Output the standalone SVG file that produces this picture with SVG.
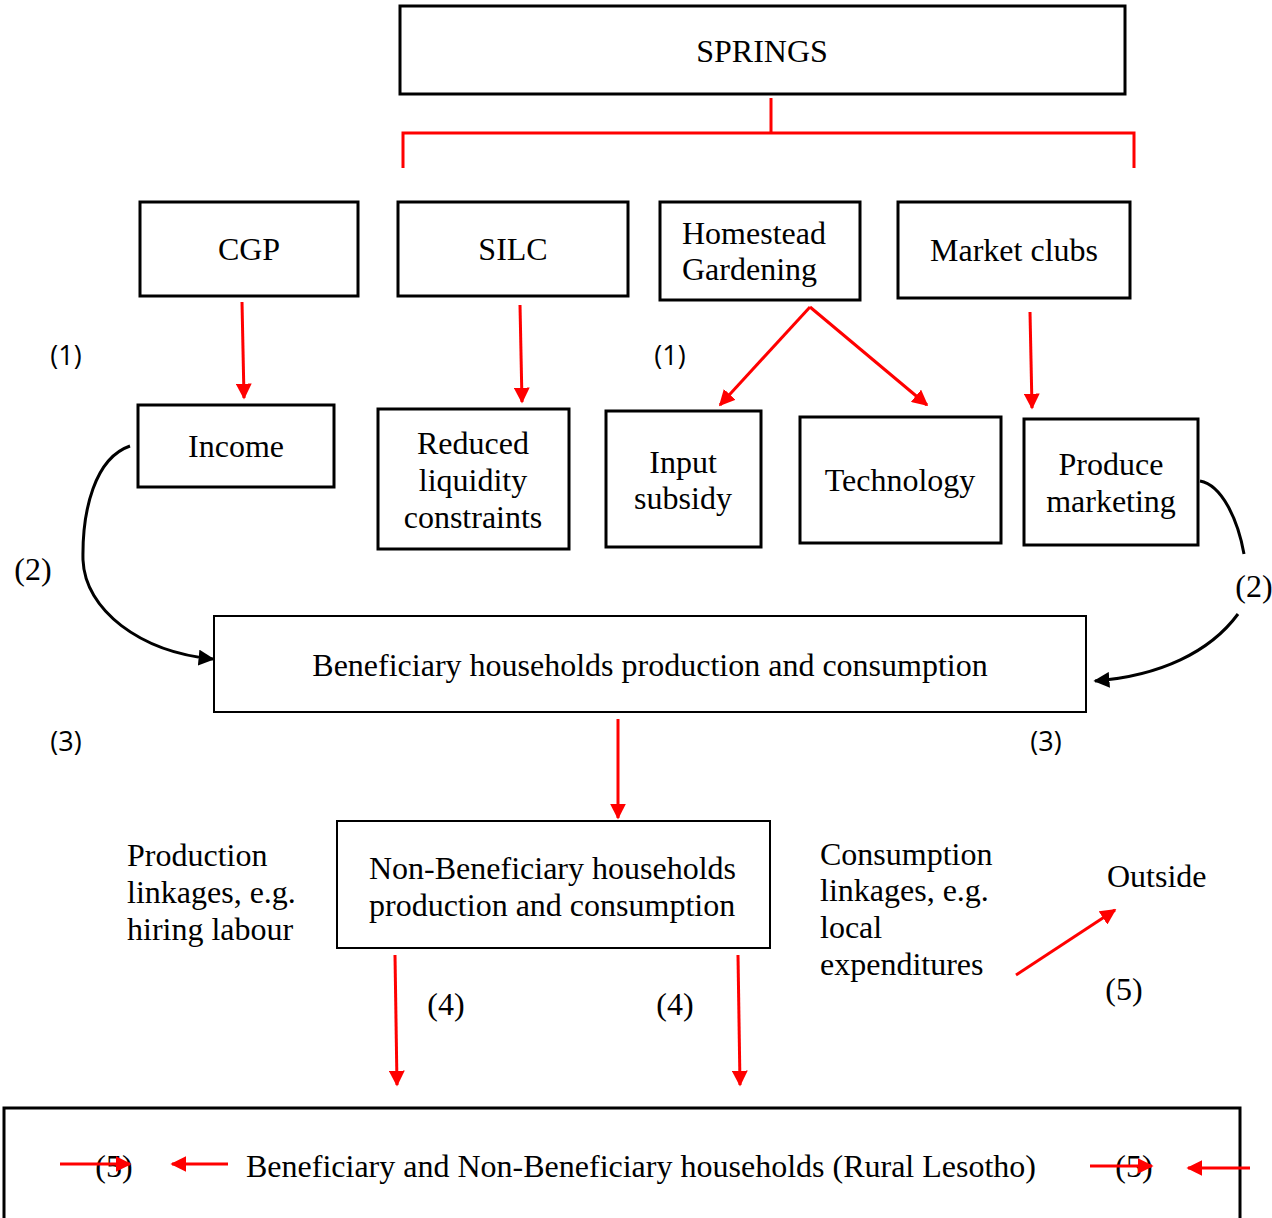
<svg xmlns="http://www.w3.org/2000/svg" width="1272" height="1218" viewBox="0 0 1272 1218">
<style>
.box{fill:#fff;stroke:#000;stroke-width:3}
.thin{fill:#fff;stroke:#000;stroke-width:2}
.t{font-family:"Liberation Serif","Times New Roman",serif;font-size:32px;fill:#000}
.c{text-anchor:middle}
.s{font-family:"Open Sans","Liberation Sans",sans-serif;font-size:27px;fill:#000;text-anchor:middle}
.red{stroke:#f00;stroke-width:3;fill:none}
.blk{stroke:#000;stroke-width:3;fill:none}
</style>
<defs>
<marker id="rab" viewBox="0 0 10 10" refX="9" refY="5" markerWidth="16" markerHeight="16" orient="auto" markerUnits="userSpaceOnUse">
<path d="M0,0 L10,5 L0,10 z" fill="#f00"/>
</marker>
<marker id="ba" viewBox="0 0 10 10" refX="9" refY="5" markerWidth="16" markerHeight="16" orient="auto" markerUnits="userSpaceOnUse">
<path d="M0,0 L10,5 L0,10 z" fill="#000"/>
</marker>
</defs>

<g id="springs"><rect class="box" x="400" y="6" width="725" height="88"/><text class="t c" x="762" y="62">SPRINGS</text></g>
<g id="cgp"><rect class="box" x="140" y="202" width="218" height="94"/><text class="t c" x="249" y="260">CGP</text></g>
<g id="silc"><rect class="box" x="398" y="202" width="230" height="94"/><text class="t c" x="513" y="260">SILC</text></g>
<g id="homestead"><rect class="box" x="660" y="202" width="200" height="98"/><text class="t" x="682" y="244">Homestead</text><text class="t" x="682" y="280">Gardening</text></g>
<g id="market"><rect class="box" x="898" y="202" width="232" height="96"/><text class="t c" x="1014" y="261">Market clubs</text></g>
<g id="income"><rect class="box" x="138" y="405" width="196" height="82"/><text class="t c" x="236" y="457">Income</text></g>
<g id="reduced"><rect class="box" x="378" y="409" width="191" height="140"/><text class="t c" x="473" y="454">Reduced</text><text class="t c" x="473" y="491">liquidity</text><text class="t c" x="473" y="528">constraints</text></g>
<g id="input"><rect class="box" x="606" y="411" width="155" height="136"/><text class="t c" x="683" y="473">Input</text><text class="t c" x="683" y="509">subsidy</text></g>
<g id="technology"><rect class="box" x="800" y="417" width="201" height="126"/><text class="t c" x="900" y="491">Technology</text></g>
<g id="produce"><rect class="box" x="1024" y="419" width="174" height="126"/><text class="t c" x="1111" y="475">Produce</text><text class="t c" x="1111" y="512">marketing</text></g>
<g id="benef"><rect class="thin" x="214" y="616" width="872" height="96"/><text class="t c" x="650" y="676">Beneficiary households production and consumption</text></g>
<g id="nonbenef"><rect class="thin" x="337" y="821" width="433" height="127"/><text class="t" x="369" y="879">Non-Beneficiary households</text><text class="t" x="369" y="916">production and consumption</text></g>
<g id="prodlink"><text class="t" x="127" y="866">Production</text><text class="t" x="127" y="903">linkages, e.g.</text><text class="t" x="127" y="940">hiring labour</text></g>
<g id="conslink"><text class="t" x="820" y="865">Consumption</text><text class="t" x="820" y="901">linkages, e.g.</text><text class="t" x="820" y="938">local</text><text class="t" x="820" y="975">expenditures</text></g>
<g id="outside"><text class="t" x="1107" y="887">Outside</text></g>
<g id="rural"><rect class="box" x="4" y="1108" width="1236" height="120"/><text class="t" x="246" y="1177">Beneficiary and Non-Beneficiary households (Rural Lesotho)</text></g>

<g id="labels">
<text class="s" x="66" y="365">(1)</text>
<text class="s" x="670" y="365">(1)</text>
<text class="s" x="66" y="751">(3)</text>
<text class="s" x="1046" y="751">(3)</text>
<text class="t c" x="33" y="580">(2)</text>
<text class="t c" x="1254" y="597">(2)</text>
<text class="t c" x="446" y="1015">(4)</text>
<text class="t c" x="675" y="1015">(4)</text>
<text class="t c" x="1124" y="1000">(5)</text>
<text class="t c" x="114" y="1177">(5)</text>
<text class="t c" x="1134" y="1177">(5)</text>
</g>

<g id="connectors">
<path class="red" d="M771,98 V133 M403,168 V133 H1134 V168"/>
<line class="red" x1="242" y1="302" x2="244" y2="398" marker-end="url(#rab)"/>
<line class="red" x1="520" y1="305" x2="522" y2="402" marker-end="url(#rab)"/>
<line class="red" x1="810" y1="307" x2="720" y2="405" marker-end="url(#rab)"/>
<line class="red" x1="810" y1="307" x2="927" y2="405" marker-end="url(#rab)"/>
<line class="red" x1="1030" y1="312" x2="1032" y2="408" marker-end="url(#rab)"/>
<path class="blk" d="M130,446 C95,458 82,510 83,560 C85,610 140,652 213,659" marker-end="url(#ba)"/>
<path class="blk" d="M1200,481 C1222,485 1238,520 1244,554"/>
<path class="blk" d="M1238,614 C1210,652 1160,676 1095,681" marker-end="url(#ba)"/>
<line class="red" x1="618" y1="719" x2="618" y2="818" marker-end="url(#rab)"/>
<line class="red" x1="395" y1="955" x2="397" y2="1085" marker-end="url(#rab)"/>
<line class="red" x1="738" y1="955" x2="740" y2="1085" marker-end="url(#rab)"/>
<line class="red" x1="1016" y1="975" x2="1115" y2="910" marker-end="url(#rab)"/>
<line class="red" x1="60" y1="1164" x2="130" y2="1164" marker-end="url(#rab)"/>
<line class="red" x1="228" y1="1164" x2="172" y2="1164" marker-end="url(#rab)"/>
<line class="red" x1="1090" y1="1166" x2="1152" y2="1166" marker-end="url(#rab)"/>
<line class="red" x1="1250" y1="1168" x2="1188" y2="1168" marker-end="url(#rab)"/>
</g>
</svg>
